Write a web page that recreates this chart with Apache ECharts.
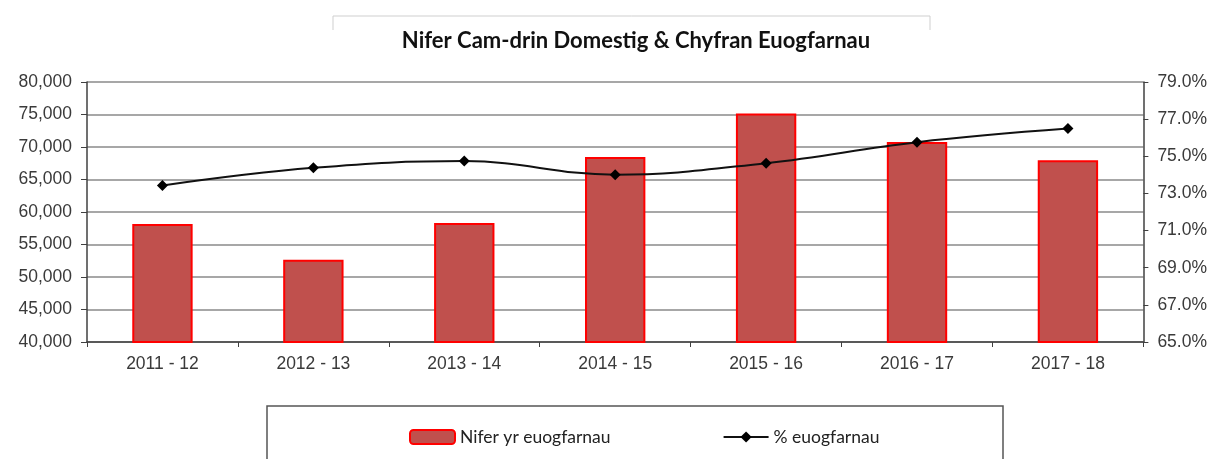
<!DOCTYPE html>
<html>
<head>
<meta charset="utf-8">
<script src="https://cdn.jsdelivr.net/npm/echarts@6/dist/echarts.min.js"></script>
<style>
  html, body { margin: 0; padding: 0; background: #fff; }
  #chart { width: 1210px; height: 459px; }
</style>
</head>
<body>
<div id="chart"></div>
<script>
const years = ['2011 - 12', '2012 - 13', '2013 - 14', '2014 - 15', '2015 - 16', '2016 - 17', '2017 - 18'];
const convictions = [58150, 52640, 58300, 68460, 75150, 70770, 67950];
const convictionRate = [73.43, 74.38, 74.74, 74.01, 74.63, 75.76, 76.49];

const axisText = { color: '#3a3a3a', fontFamily: 'Liberation Sans', fontSize: 17.5 };
const chart = echarts.init(document.getElementById('chart'));

chart.setOption({
  animation: false,
  title: {
    text: 'Nifer Cam-drin Domestig & Chyfran Euogfarnau',
    left: 631,
    textAlign: 'center',
    top: 25,
    textStyle: { fontFamily: 'Lato', fontWeight: 'bold', fontSize: 22, color: '#111' },
  },
  graphic: [
    {
      type: 'polyline',
      shape: { points: [[333, 30], [333, 16], [930, 16], [930, 30]] },
      style: { stroke: '#cfcfcf', lineWidth: 1, fill: null },
      silent: true,
    },
    {
      type: 'rect',
      shape: { x: 267, y: 406, width: 736, height: 70 },
      style: { stroke: '#555', lineWidth: 1.5, fill: null },
      silent: true,
    },
  ],
  legend: {
    left: 404,
    top: 423,
    itemGap: 112,
    itemWidth: 45,
    itemHeight: 14,
    textStyle: { fontFamily: 'Lato', fontSize: 17.5, color: '#222' },
    data: ['Nifer yr euogfarnau', '% euogfarnau'],
  },
  grid: { left: 87, right: 66, top: 82, bottom: 117 },
  xAxis: {
    type: 'category',
    data: years,
    axisLine: { lineStyle: { color: '#404040', width: 1.5 } },
    axisTick: { show: true, length: 5, lineStyle: { color: '#404040' } },
    axisLabel: { ...axisText, margin: 13 },
  },
  yAxis: [
    {
      type: 'value',
      min: 40000,
      max: 80000,
      interval: 5000,
      axisLine: { show: true, lineStyle: { color: '#404040', width: 1.5 } },
      axisTick: { show: true, length: 6, lineStyle: { color: '#404040' } },
      axisLabel: { ...axisText, margin: 15, formatter: v => v.toLocaleString('en-US') },
      splitLine: { lineStyle: { color: '#8a8a8a', width: 1.5 } },
    },
    {
      type: 'value',
      position: 'right',
      min: 65,
      max: 79,
      interval: 2,
      axisLine: { show: true, lineStyle: { color: '#404040', width: 1.5 } },
      axisTick: { show: true, length: 5, lineStyle: { color: '#404040' } },
      axisLabel: { ...axisText, margin: 14, formatter: v => v.toFixed(1) + '%' },
      splitLine: { show: false },
    },
  ],
  series: [
    {
      name: 'Nifer yr euogfarnau',
      type: 'bar',
      data: convictions,
      barWidth: '40%',
      itemStyle: { color: '#c0504d', borderColor: '#ff0000', borderWidth: 2 },
    },
    {
      name: '% euogfarnau',
      type: 'line',
      yAxisIndex: 1,
      data: convictionRate,
      smooth: 0.4,
      symbol: 'diamond',
      symbolSize: 11,
      lineStyle: { color: '#111', width: 2 },
      itemStyle: { color: '#000' },
      z: 5,
    },
  ],
});
</script>
</body>
</html>
